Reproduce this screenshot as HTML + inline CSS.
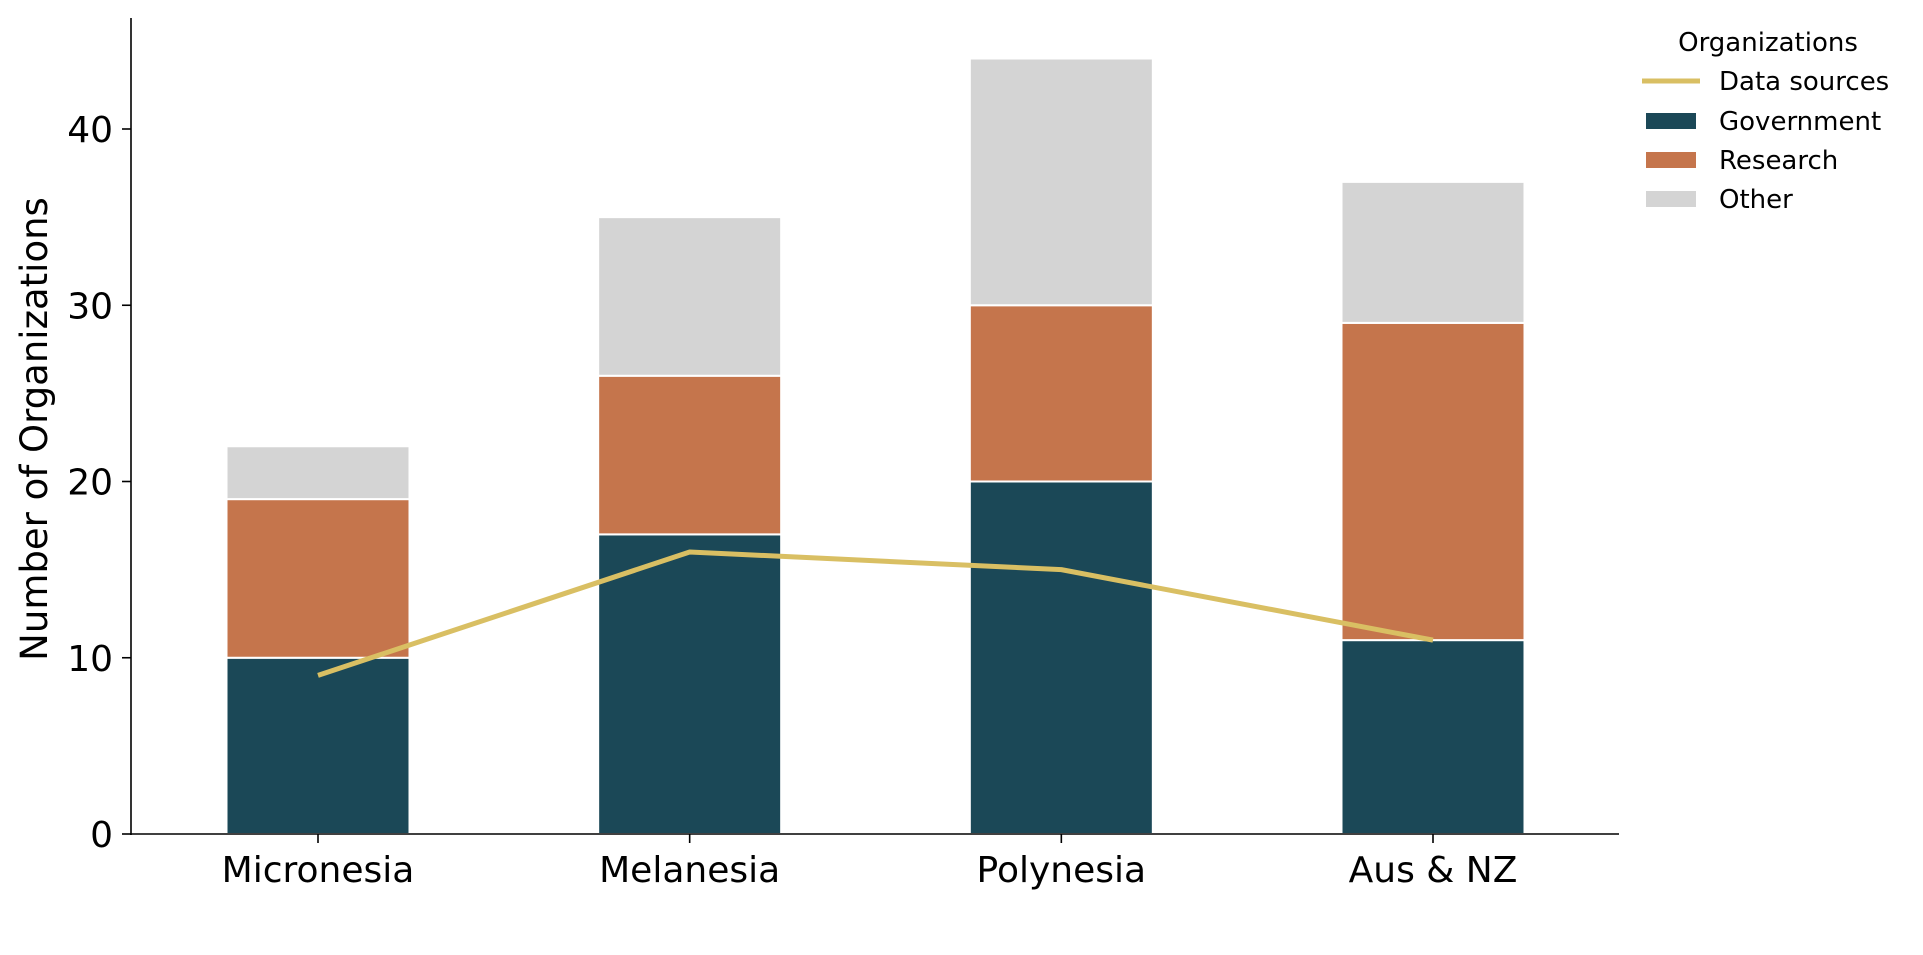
<!DOCTYPE html>
<html><head><meta charset="utf-8"><style>
html,body{margin:0;padding:0;background:#fff;}
svg{display:block;font-family:"DejaVu Sans","Liberation Sans",sans-serif;}
</style></head><body>
<svg id="chart" width="1923" height="955" viewBox="0 0 1923 955" xmlns="http://www.w3.org/2000/svg">
<g id="bars"></g>
<g id="line"></g>
<g id="axes"></g>
<text x="0" y="0" transform="translate(47,429) rotate(-90)" text-anchor="middle" font-size="37">Number of Organizations</text>
<g>
<text x="1768" y="51" text-anchor="middle" font-size="26">Organizations</text>
<line x1="1642" y1="81" x2="1700" y2="81" stroke="#d9bf63" stroke-width="5"/>
<text x="1719" y="90" font-size="26">Data sources</text>
<rect x="1646" y="113" width="50" height="16" fill="#1b4857"/>
<text x="1719" y="130" font-size="26">Government</text>
<rect x="1646" y="152" width="50" height="16" fill="#c5754c"/>
<text x="1719" y="169" font-size="26">Research</text>
<rect x="1646" y="191" width="50" height="16" fill="#d4d4d4"/>
<text x="1719" y="208" font-size="26">Other</text>
</g>
</svg>
<script>
const categories = ["Micronesia","Melanesia","Polynesia","Aus & NZ"];
const government = [10,17,20,11];
const research = [9,9,10,18];
const other = [3,9,14,8];
const dataSources = [9,16,15,11];
const yTicks = [0,10,20,30,40];

const NS="http://www.w3.org/2000/svg";
const x0=131, x1=1619, yBase=834, yTopPx=18;
const pxPer = (834-129)/40;
const step=(1433-318)/3, firstC=318, barW=183;
function xScale(i){return firstC+i*step;}
function yScale(v){return yBase - v*pxPer;}
function mk(tag,attrs,parent){const e=document.createElementNS(NS,tag);for(const k in attrs)e.setAttribute(k,attrs[k]);parent.appendChild(e);return e;}

const bars=document.getElementById('bars');
const series=[["government",government,"#1b4857"],["research",research,"#c5754c"],["other",other,"#d4d4d4"]];
categories.forEach((c,i)=>{
  let base=0;
  series.forEach(([nm,arr,col])=>{
    const v=arr[i];
    const r=mk('rect',{x:xScale(i)-barW/2,y:yScale(base+v),width:barW,height:v*pxPer,fill:col,stroke:'#fff','stroke-width':2},bars);
    
    
    base+=v;
  });
});

const lg=document.getElementById('line');
const pts=dataSources.map((v,i)=>xScale(i)+','+yScale(v)).join(' ');
const pl=mk('polyline',{points:pts,fill:'none',stroke:'#d9bf63','stroke-width':5,'stroke-linejoin':'round'},lg);



const ax=document.getElementById('axes');
const ya=mk('line',{x1:x0,y1:yTopPx,x2:x0,y2:yBase+1,stroke:'#000','stroke-width':1.6},ax);


const xa=mk('line',{x1:x0-1,y1:yBase,x2:x1,y2:yBase,stroke:'#000','stroke-width':1.6},ax);


yTicks.forEach(t=>{
  const y=yScale(t);
  const tk=mk('line',{x1:x0-9,y1:y,x2:x0,y2:y,stroke:'#000','stroke-width':1.6},ax);
  
  
  const tx=mk('text',{x:x0-18,y:y+13,'text-anchor':'end','font-size':36},ax);
  tx.textContent=t;
  
  
});
categories.forEach((c,i)=>{
  const x=xScale(i);
  const tk=mk('line',{x1:x,y1:yBase,x2:x,y2:yBase+9,stroke:'#000','stroke-width':1.6},ax);
  
  
  const tx=mk('text',{x:x,y:882,'text-anchor':'middle','font-size':36},ax);
  tx.textContent=c;
  
  
});
</script>
</body></html>
